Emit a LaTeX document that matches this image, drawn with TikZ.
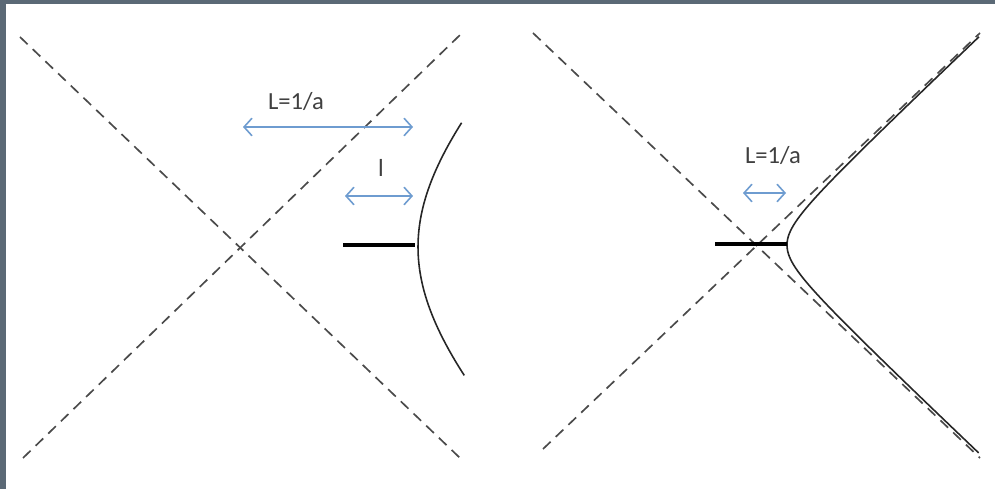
\documentclass[tikz,border=0pt]{standalone}
\usepackage{fontspec}
\setmainfont{Carlito}
\usetikzlibrary{arrows.meta}
\definecolor{frame}{HTML}{5B6976}
\definecolor{dashgray}{HTML}{4A4A4A}
\definecolor{arrowblue}{HTML}{6E9CD0}
\definecolor{txt}{HTML}{404040}
\tikzset{
  lightcone/.style={draw=dashgray, line width=0.95pt, dash pattern=on 6pt off 4pt},
  worldline/.style={draw=black!85, line width=0.9pt},
  rod/.style={draw=black, line width=2.3pt},
  measure/.style={draw=arrowblue, line width=0.9pt, {Straight Barb[length=4.5pt,width=10pt]}-{Straight Barb[length=4.5pt,width=10pt]}},
  lbl/.style={text=txt, font=\fontsize{14}{16}\selectfont, inner sep=0pt}
}
\begin{document}
\begin{tikzpicture}[x=0.02cm,y=-0.02cm]
\useasboundingbox (0,0) rectangle (995,489);
\fill[white] (0,0) rectangle (995,489);
\fill[frame] (0,0) rectangle (995,4);
\fill[frame] (0,0) rectangle (6,489);

% ---------- left diagram ----------
\coordinate (LA1) at (20,37);
\coordinate (LA2) at (460,458);
\coordinate (LB1) at (23,458);
\coordinate (LB2) at (460,35);
\draw[lightcone] (LA1) -- (LA2);
\draw[lightcone] (LB1) -- (LB2);
\draw[worldline] plot[domain=-0.69:0.71, samples=60, variable=\t]
  ({242+176*cosh(\t)},{247+166.5*sinh(\t)});
\coordinate (LR1) at (343,245);
\coordinate (LR2) at (415,245);
\draw[rod] (LR1) -- (LR2);
\coordinate (LM1) at (243,127);
\coordinate (LM2) at (413,127);
\draw[measure] (LM1) -- (LM2);
\coordinate (LS1) at (345,196);
\coordinate (LS2) at (413,196);
\draw[measure] (LS1) -- (LS2);
\node[lbl] (Ltext) at (296,101) {L=1/a};
\node[lbl] (ltext) at (381,168) {l};

% ---------- right diagram ----------
\coordinate (RA1) at (533,33);
\coordinate (RA2) at (980,458);
\coordinate (RB1) at (543,449);
\coordinate (RB2) at (980,33);
\draw[lightcone] (RA1) -- (RA2);
\draw[lightcone] (RB1) -- (RB2);
\draw[worldline] plot[domain=-2.69:2.69, samples=120, variable=\t]
  ({757+30*cosh(\t)},{245+28.4*sinh(\t)});
\coordinate (RR1) at (715,244);
\coordinate (RR2) at (787,244);
\draw[rod] (RR1) -- (RR2);
\coordinate (RM1) at (743,193);
\coordinate (RM2) at (786,193);
\draw[measure] (RM1) -- (RM2);
\node[lbl] (Rtext) at (773,155) {L=1/a};
\end{tikzpicture}
\end{document}
